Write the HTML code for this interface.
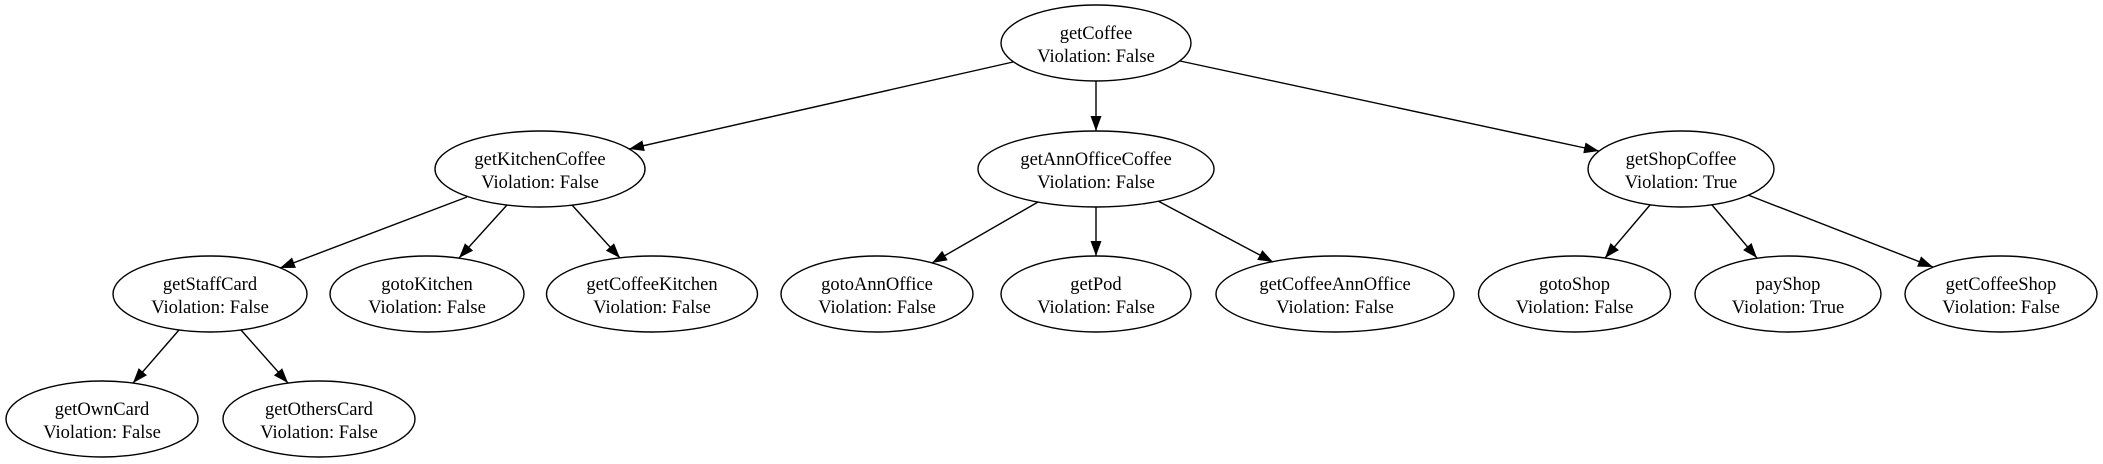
<!DOCTYPE html>
<html><head><meta charset="utf-8"><style>
html,body{margin:0;padding:0;background:#fff;}
svg{display:block;}
text{font-family:"Liberation Serif",serif;font-size:18.5px;fill:#000;text-anchor:middle;}
ellipse{fill:none;stroke:#000;stroke-width:1.4;}
line{stroke:#000;stroke-width:1.4;}
</style></head><body>
<svg width="2103" height="464" viewBox="0 0 2103 464" xmlns="http://www.w3.org/2000/svg">
<defs><marker id="a" markerUnits="userSpaceOnUse" markerWidth="16" markerHeight="12" refX="15" refY="6" orient="auto"><polygon points="0,0.5 15,6 0,11.5" fill="#000"/></marker></defs>
<g marker-end="url(#a)">
<line x1="1013" y1="62" x2="629" y2="149"/>
<line x1="1096" y1="81" x2="1096" y2="131"/>
<line x1="1180" y1="61" x2="1599" y2="151"/>
<line x1="467" y1="197" x2="280" y2="268"/>
<line x1="507" y1="205" x2="459" y2="258"/>
<line x1="572" y1="205" x2="620" y2="258"/>
<line x1="1038" y1="202" x2="932" y2="263"/>
<line x1="1096" y1="207" x2="1096" y2="256"/>
<line x1="1158" y1="201" x2="1273" y2="262"/>
<line x1="1650" y1="205" x2="1605" y2="258"/>
<line x1="1712" y1="205" x2="1757" y2="258"/>
<line x1="1748" y1="195" x2="1933" y2="267"/>
<line x1="179" y1="330" x2="133" y2="383"/>
<line x1="241" y1="330" x2="288" y2="383"/>
</g>
<ellipse cx="1096" cy="43" rx="95" ry="38"/><text x="1096" y="39">getCoffee</text><text x="1096" y="62">Violation: False</text>
<ellipse cx="540" cy="169" rx="105" ry="38"/><text x="540" y="165">getKitchenCoffee</text><text x="540" y="188">Violation: False</text>
<ellipse cx="1096" cy="169" rx="118" ry="38"/><text x="1096" y="165">getAnnOfficeCoffee</text><text x="1096" y="188">Violation: False</text>
<ellipse cx="1681" cy="169" rx="93" ry="38"/><text x="1681" y="165">getShopCoffee</text><text x="1681" y="188">Violation: True</text>
<ellipse cx="210" cy="294" rx="97" ry="38"/><text x="210" y="290">getStaffCard</text><text x="210" y="313">Violation: False</text>
<ellipse cx="427" cy="294" rx="97" ry="38"/><text x="427" y="290">gotoKitchen</text><text x="427" y="313">Violation: False</text>
<ellipse cx="652" cy="294" rx="105.5" ry="38"/><text x="652" y="290">getCoffeeKitchen</text><text x="652" y="313">Violation: False</text>
<ellipse cx="877" cy="294" rx="96" ry="38"/><text x="877" y="290">gotoAnnOffice</text><text x="877" y="313">Violation: False</text>
<ellipse cx="1096" cy="294" rx="95" ry="38"/><text x="1096" y="290">getPod</text><text x="1096" y="313">Violation: False</text>
<ellipse cx="1335" cy="294" rx="119" ry="38"/><text x="1335" y="290">getCoffeeAnnOffice</text><text x="1335" y="313">Violation: False</text>
<ellipse cx="1574.5" cy="294" rx="96" ry="38"/><text x="1574.5" y="290">gotoShop</text><text x="1574.5" y="313">Violation: False</text>
<ellipse cx="1788" cy="294" rx="93" ry="38"/><text x="1788" y="290">payShop</text><text x="1788" y="313">Violation: True</text>
<ellipse cx="2001" cy="294" rx="96" ry="38"/><text x="2001" y="290">getCoffeeShop</text><text x="2001" y="313">Violation: False</text>
<ellipse cx="102" cy="419" rx="96" ry="38"/><text x="102" y="415">getOwnCard</text><text x="102" y="438">Violation: False</text>
<ellipse cx="319" cy="419" rx="96" ry="38"/><text x="319" y="415">getOthersCard</text><text x="319" y="438">Violation: False</text>
</svg>
</body></html>
